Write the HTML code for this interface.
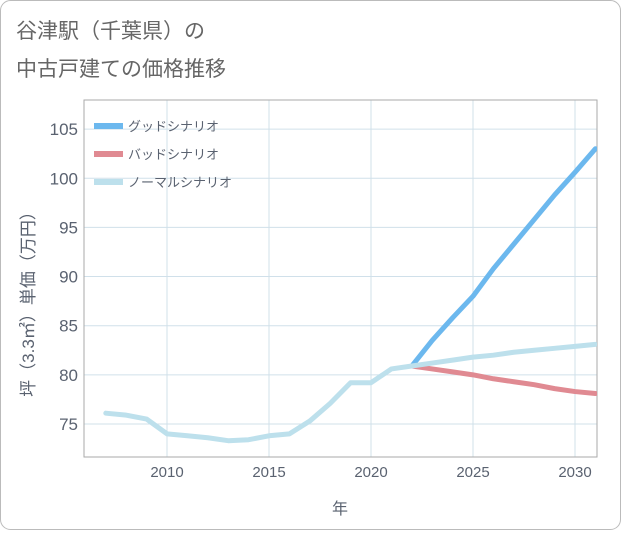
<!DOCTYPE html>
<html><head><meta charset="utf-8"><style>
body{margin:0;background:#fff;}
#wrap{position:relative;width:621px;height:530px;font-family:"Liberation Sans","Noto Sans CJK JP",sans-serif;}
</style></head><body>
<div id="wrap">
<svg id="svg" width="621" height="530" xmlns="http://www.w3.org/2000/svg">
<rect x="0.5" y="0.5" width="620" height="529" rx="10" fill="#fff" stroke="#bbb"/>
<text x="16" y="38" font-size="21" fill="#666" font-family="Liberation Sans, Noto Sans CJK JP, sans-serif">谷津駅（千葉県）の</text>
<text x="16" y="76" font-size="21" fill="#666" font-family="Liberation Sans, Noto Sans CJK JP, sans-serif">中古戸建ての価格推移</text>
<g id="grid"></g><g id="series"></g><g id="legend"></g>
</svg>
</div>
<script>
const years=[2007,2008,2009,2010,2011,2012,2013,2014,2015,2016,2017,2018,2019,2020,2021,2022];
const normalVals=[76.1,75.9,75.5,74.0,73.8,73.6,73.3,73.4,73.8,74.0,75.3,77.1,79.2,79.2,80.6,80.9];
const futYears=[2022,2023,2024,2025,2026,2027,2028,2029,2030,2031];
const goodVals=[80.9,83.5,85.8,88.0,90.8,93.3,95.8,98.3,100.6,103.0];
const badVals=[80.9,80.6,80.3,80.0,79.6,79.3,79.0,78.6,78.3,78.1];
const normFutVals=[80.9,81.2,81.5,81.8,82.0,82.3,82.5,82.7,82.9,83.1];
const xTicks=[2010,2015,2020,2025,2030];
const yTicks=[75,80,85,90,95,100,105];
const seriesNames=["グッドシナリオ","バッドシナリオ","ノーマルシナリオ"];
const L=84,R=597,T=100,B=457;
const X=y=>167+(y-2010)*20.4;
const Y=v=>424-(v-75)*9.83;
const NS="http://www.w3.org/2000/svg";
function mk(p,t,a){const e=document.createElementNS(NS,t);for(const k in a)e.setAttribute(k,a[k]);p.appendChild(e);return e;}
const g=document.getElementById('grid'),s=document.getElementById('series'),lg=document.getElementById('legend'),svg=document.getElementById('svg');
for(const t of xTicks){const l=mk(g,'line',{x1:X(t),x2:X(t),y1:T,y2:B,stroke:'#d0e0ea'});


const tx=mk(g,'text',{x:X(t),y:477,'font-size':15,fill:'#5a6270','text-anchor':'middle'});tx.textContent=t;

}
for(const t of yTicks){const l=mk(g,'line',{x1:L,x2:R,y1:Y(t),y2:Y(t),stroke:'#d0e0ea'});


const tx=mk(g,'text',{x:78,y:Y(t)+6,'font-size':17,fill:'#5a6270','text-anchor':'end'});tx.textContent=t;

}
const fr=mk(g,'rect',{x:L,y:T,width:R-L,height:B-T,fill:'none',stroke:'#aaa'});


const xt=mk(g,'text',{x:340,y:514,'font-size':16,fill:'#5a6270','text-anchor':'middle'});xt.textContent='年';


const yt=mk(g,'text',{x:0,y:0,'font-size':17,fill:'#5a6270','text-anchor':'middle',transform:'translate(34,300) rotate(-90)'});yt.textContent='坪（3.3㎡）単価（万円）';


const clip=mk(svg,'clipPath',{id:'cp'});mk(clip,'rect',{x:L,y:T,width:R-L,height:B-T});
s.setAttribute('clip-path','url(#cp)');
function line(xs,vs,c,name){const p=mk(s,'polyline',{points:xs.map((x,i)=>X(x)+','+Y(vs[i])).join(' '),fill:'none',stroke:c,'stroke-width':5,'stroke-linejoin':'round','stroke-linecap':'round'});

}
line(futYears,goodVals,'#6cb8ee','good-scenario-line');
line(futYears,badVals,'#e08a92','bad-scenario-line');
line(futYears,normFutVals,'#bde0ec','normal-scenario-forecast-line');
line(years,normalVals,'#bde0ec','normal-scenario-line');
const cols=['#6cb8ee','#e08a92','#bde0ec'];
seriesNames.forEach((n,i)=>{const y=126+i*28;
const r=mk(lg,'line',{x1:94,x2:123,y1:y,y2:y,stroke:cols[i],'stroke-width':6});


const t=mk(lg,'text',{x:128,y:y+5,'font-size':13,fill:'#5a6270'});t.textContent=n;

});
</script>
</body></html>
